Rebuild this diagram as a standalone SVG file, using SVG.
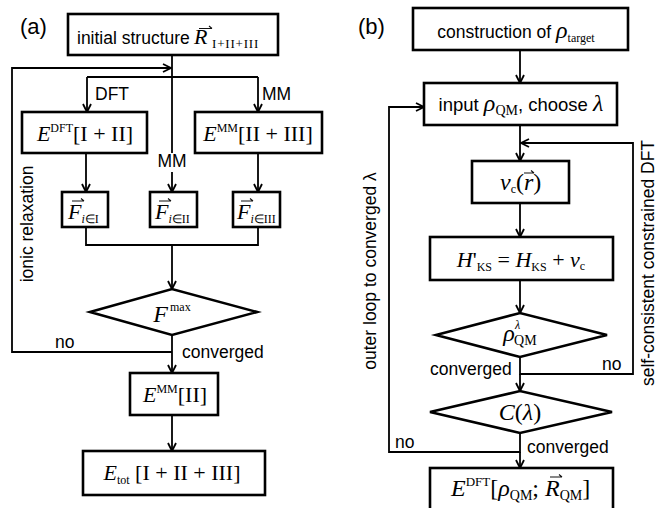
<svg xmlns="http://www.w3.org/2000/svg" width="658" height="508" viewBox="0 0 658 508">
<style>
.box{fill:#fff;stroke:#000;stroke-width:2.6}
.con{fill:none;stroke:#000;stroke-width:1.8}
.acc{fill:none;stroke:#111;stroke-width:1.1}
.lbl{font-family:"Liberation Sans",Arial,sans-serif;font-size:17.5px;fill:#000}
.pl{font-family:"Liberation Sans",Arial,sans-serif;font-size:22px;fill:#000}
.m{font-family:"Liberation Serif","Times New Roman",serif;font-size:22px;fill:#000}
.i{font-style:italic}
.s{font-size:12px}
</style>
<defs>
<marker id="arr" viewBox="0 0 10 10" refX="9" refY="5" markerWidth="10" markerHeight="10" orient="auto" markerUnits="userSpaceOnUse">
<path d="M1,1 L9,5 L1,9" fill="none" stroke="#000" stroke-width="1.8"/>
</marker>
</defs>
<rect width="658" height="508" fill="#fff"/>

<text x="20" y="34" class="pl">(a)</text>
<text x="358" y="34" class="pl">(b)</text>

<g id="connectors">
<path class="con" d="M172,55 V153"/>
<path class="con" d="M172,172 V192" marker-end="url(#arr)"/>
<path class="con" d="M172,352 H12 V68 H171" marker-end="url(#arr)"/>
<path class="con" d="M87,77 H258"/>
<path class="con" d="M87,77 V112" marker-end="url(#arr)"/>
<path class="con" d="M258,77 V112" marker-end="url(#arr)"/>
<path class="con" d="M86,153 V192" marker-end="url(#arr)"/>
<path class="con" d="M258,153 V192" marker-end="url(#arr)"/>
<path class="con" d="M86,227 V245 H258 V227"/>
<path class="con" d="M172,245 V289" marker-end="url(#arr)"/>
<path class="con" d="M172,335 V373" marker-end="url(#arr)"/>
<path class="con" d="M172,415 V451" marker-end="url(#arr)"/>

<path class="con" d="M520,50 V83" marker-end="url(#arr)"/>
<path class="con" d="M520,433 V452 H389 V107 H424" marker-end="url(#arr)"/>
<path class="con" d="M520,125 V161" marker-end="url(#arr)"/>
<path class="con" d="M520,357 V374 H633 V143 H521" marker-end="url(#arr)"/>
<path class="con" d="M520,203 V237" marker-end="url(#arr)"/>
<path class="con" d="M520,280 V313" marker-end="url(#arr)"/>
<path class="con" d="M520,374 V391" marker-end="url(#arr)"/>
<path class="con" d="M520,452 V468" marker-end="url(#arr)"/>

<text x="95" y="100" class="lbl">DFT</text>
<text x="262" y="100" class="lbl">MM</text>
<text x="172" y="167" class="lbl" text-anchor="middle">MM</text>
<text x="55" y="348" class="lbl">no</text>
<text x="182" y="358" class="lbl">converged</text>
<text transform="translate(33,224) rotate(-90)" class="lbl" text-anchor="middle">ionic relaxation</text>

<text x="602" y="370" class="lbl">no</text>
<text x="430" y="375" class="lbl">converged</text>
<text x="395" y="448" class="lbl">no</text>
<text x="527" y="453" class="lbl">converged</text>
<text transform="translate(376,271) rotate(-90)" class="lbl" text-anchor="middle">outer loop to converged λ</text>
<text transform="translate(654,263) rotate(-90)" class="lbl" text-anchor="middle">self-consistent constrained DFT</text>
</g>

<g id="a-initial">
<rect class="box" x="68" y="14" width="210" height="41"/>
<text x="77" y="44" class="lbl">initial structure</text>
<text x="194" y="44" class="m i">R</text>
<text x="212" y="48" class="m" style="font-size:13px" letter-spacing="0.8">I+II+III</text>
<path class="acc" d="M199,28.5 H212 M209,26 L212,28.5"/>
</g>
<g id="a-edft">
<rect class="box" x="22" y="112" width="125" height="41"/>
<text x="85" y="141" class="m" text-anchor="middle"><tspan class="i">E</tspan><tspan class="s" dy="-9">DFT</tspan><tspan dy="9">[I + II]</tspan></text>
</g>
<g id="a-emm">
<rect class="box" x="195" y="112" width="127" height="41"/>
<text x="258" y="141" class="m" text-anchor="middle"><tspan class="i">E</tspan><tspan class="s" dy="-9">MM</tspan><tspan dy="9">[II + III]</tspan></text>
</g>
<g id="a-f1">
<rect class="box" x="62" y="192" width="46" height="35"/>
<text x="68" y="219" class="m"><tspan class="i">F</tspan><tspan class="s" dy="4"><tspan class="i">i</tspan>∈I</tspan></text>
<path class="acc" d="M72,201 H84 M81,198.5 L84,201"/>
</g>
<g id="a-f2">
<rect class="box" x="150" y="192" width="47" height="35"/>
<text x="155" y="219" class="m"><tspan class="i">F</tspan><tspan class="s" dy="4"><tspan class="i">i</tspan>∈II</tspan></text>
<path class="acc" d="M159,201 H171 M168,198.5 L171,201"/>
</g>
<g id="a-f3">
<rect class="box" x="233" y="192" width="47" height="35"/>
<text x="237" y="219" class="m"><tspan class="i">F</tspan><tspan class="s" dy="4"><tspan class="i">i</tspan>∈III</tspan></text>
<path class="acc" d="M241,201 H253 M250,198.5 L253,201"/>
</g>
<g id="a-fmax">
<polygon class="box" points="90,312 172,289 257,312 172,335"/>
<text x="172" y="322" class="m" text-anchor="middle"><tspan class="i" style="font-size:24px">F</tspan><tspan class="s" dy="-11" dx="2">max</tspan></text>
</g>
<g id="a-emm2">
<rect class="box" x="130" y="373" width="88" height="42"/>
<text x="175" y="402" class="m" text-anchor="middle"><tspan class="i">E</tspan><tspan class="s" dy="-9">MM</tspan><tspan dy="9">[II]</tspan></text>
</g>
<g id="a-etot">
<rect class="box" x="83" y="451" width="182" height="44"/>
<text x="172" y="480" class="m" text-anchor="middle"><tspan class="i">E</tspan><tspan class="s" dy="4">tot</tspan><tspan dy="-4"> [I + II + III]</tspan></text>
</g>

<g id="b-target">
<rect class="box" x="413" y="8" width="215" height="42"/>
<text x="516" y="38" class="lbl" text-anchor="middle">construction of  <tspan class="m i" style="font-size:24px">ρ</tspan><tspan class="m s" dy="4">target</tspan></text>
</g>
<g id="b-input">
<rect class="box" x="424" y="83" width="193" height="42"/>
<text x="521" y="111" class="lbl" text-anchor="middle" style="font-size:18.5px">input <tspan class="m i" style="font-size:24px">ρ</tspan><tspan class="m" style="font-size:14px" dy="4">QM</tspan><tspan dy="-4">, choose </tspan><tspan class="m i" style="font-size:24px">λ</tspan></text>
</g>
<g id="b-vc">
<rect class="box" x="472" y="161" width="97" height="42"/>
<text x="500" y="190" class="m" style="font-size:24px"><tspan class="i">v</tspan><tspan class="s" dy="3">c</tspan><tspan dy="-3">(</tspan><tspan class="i">r</tspan>)</text>
<path class="acc" d="M524,173 H534 M531,170.5 L534,173"/>
</g>
<g id="b-h">
<rect class="box" x="430" y="237" width="183" height="43"/>
<text x="521" y="267" class="m" text-anchor="middle"><tspan class="i">H</tspan>'<tspan class="s" dy="4">KS</tspan><tspan dy="-4"> = </tspan><tspan class="i">H</tspan><tspan class="s" dy="4">KS</tspan><tspan dy="-4"> + </tspan><tspan class="i">v</tspan><tspan class="s" dy="3">c</tspan></text>
</g>
<g id="b-rho">
<polygon class="box" points="436,335 520,313 607,335 520,357"/>
<text x="520" y="341" class="m" text-anchor="middle"><tspan class="i" style="font-size:24px">ρ</tspan><tspan class="s i" dy="-12">λ</tspan><tspan style="font-size:14px" dx="-6" dy="16">QM</tspan></text>
</g>
<g id="b-c">
<polygon class="box" points="430,412 520,391 612,412 520,433"/>
<text x="520" y="420" class="m" text-anchor="middle" style="font-size:24px"><tspan class="i">C</tspan>(<tspan class="i">λ</tspan>)</text>
</g>
<g id="b-final">
<rect class="box" x="430" y="468" width="183" height="44"/>
<text x="451" y="496" class="m" style="font-size:24px"><tspan class="i">E</tspan><tspan style="font-size:13px" dy="-10">DFT</tspan><tspan dy="10">[</tspan><tspan class="i">ρ</tspan><tspan style="font-size:14px" dy="4">QM</tspan><tspan dy="-4">;</tspan></text>
<text x="545" y="496" class="m" style="font-size:24px"><tspan class="i">R</tspan><tspan style="font-size:14px" dy="4">QM</tspan><tspan dy="-4">]</tspan></text>
<path class="acc" d="M550,477 H562 M559,474.5 L562,477"/>
</g>
</svg>
